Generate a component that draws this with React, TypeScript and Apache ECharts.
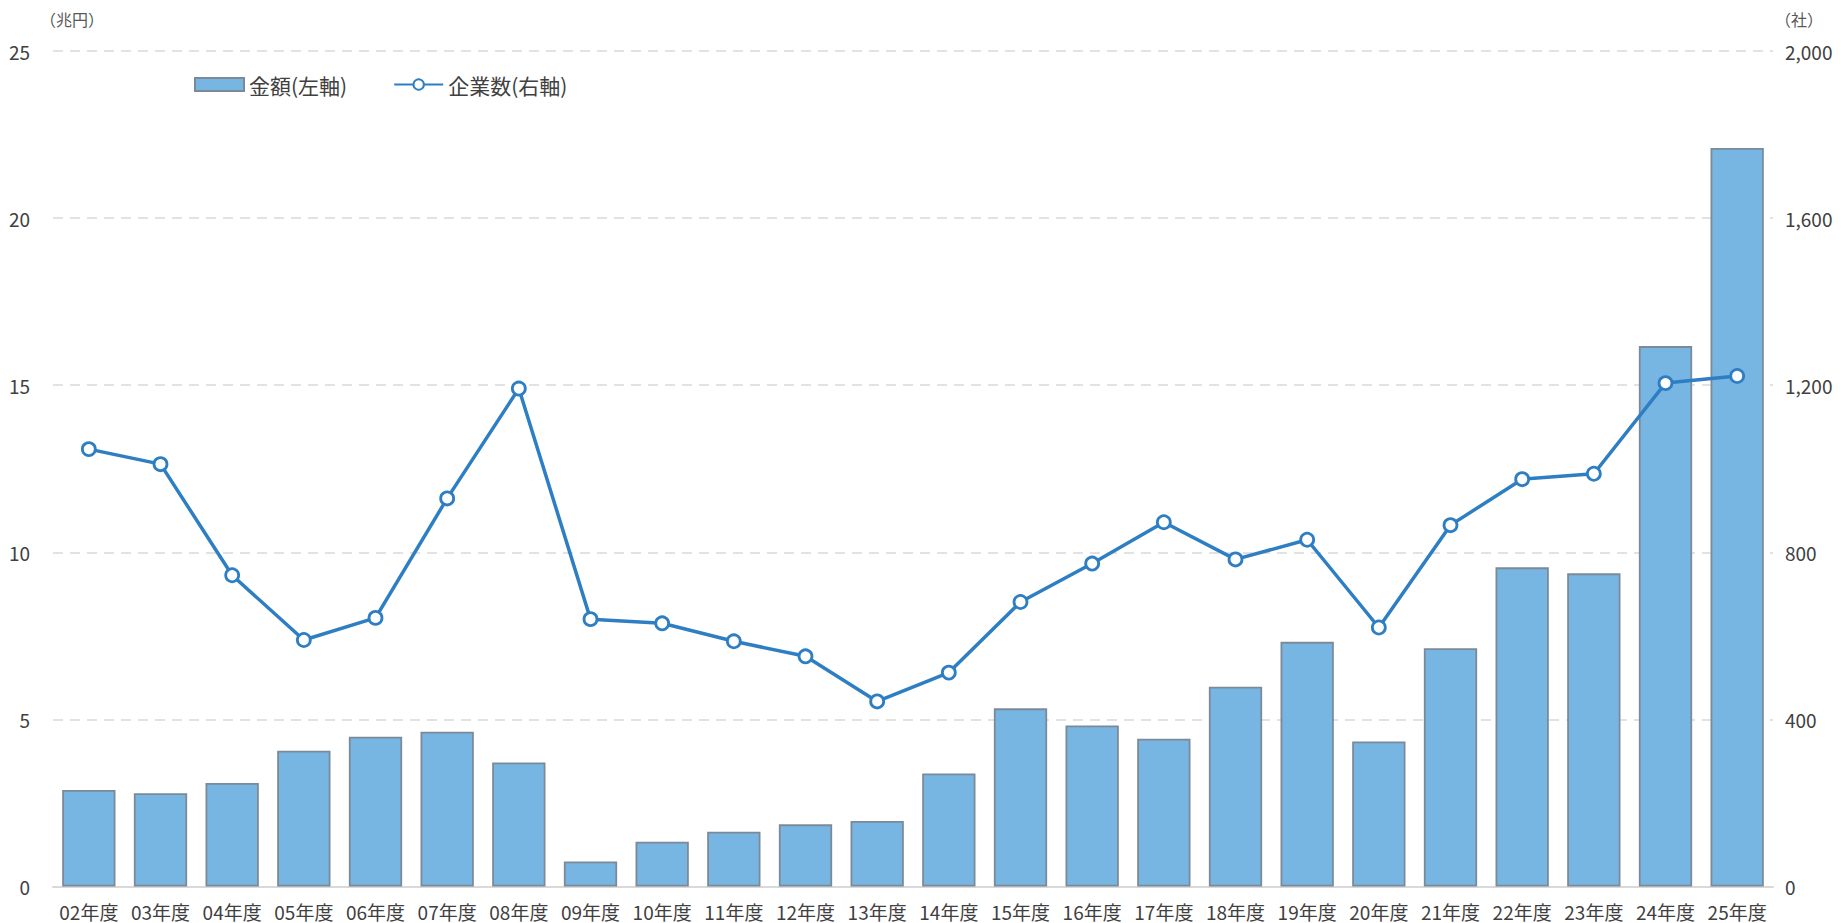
import React, { useEffect, useRef } from "react";
import * as echarts from "echarts";

const categories = [
  "02年度", "03年度", "04年度", "05年度", "06年度", "07年度", "08年度", "09年度",
  "10年度", "11年度", "12年度", "13年度", "14年度", "15年度", "16年度", "17年度",
  "18年度", "19年度", "20年度", "21年度", "22年度", "23年度", "24年度", "25年度",
];

// 金額 (兆円)
const amountValues = [
  2.89, 2.79, 3.1, 4.06, 4.48, 4.63, 3.71, 0.75,
  1.34, 1.64, 1.86, 1.96, 3.38, 5.33, 4.82, 4.42,
  5.98, 7.32, 4.34, 7.13, 9.55, 9.37, 16.17, 22.1,
];

// 企業数 (社)
const companyValues = [
  1047, 1011, 745, 590, 643, 929, 1192, 640,
  630, 587, 551, 443, 512, 681, 773, 872,
  783, 830, 620, 865, 975, 988, 1205, 1222,
];

const leftAxisName = "（兆円）";
const rightAxisName = "（社）";
const barName = "金額(左軸)";
const lineName = "企業数(右軸)";

const FONT = "'Noto Sans CJK JP', 'Noto Sans', sans-serif";

export default function App() {
  const ref = useRef<HTMLDivElement>(null);

  useEffect(() => {
    document.body.style.margin = "0";
    if (!ref.current) return;
    const chart = echarts.init(ref.current, null, { renderer: "svg" });
    chart.setOption({
      animation: false,
      backgroundColor: "#ffffff",
      textStyle: { fontFamily: FONT },
      grid: { left: 53, right: 68, top: 51, bottom: 36.5, containLabel: false },
      legend: {
        left: 189,
        top: 69,
        itemWidth: 49,
        itemHeight: 13,
        itemGap: 46,
        textStyle: { fontSize: 21, color: "#404040", fontFamily: FONT },
        data: [
          { name: barName, icon: "rect" },
          { name: lineName },
        ],
      },
      graphic: [
        {
          type: "text",
          left: 40,
          top: 11,
          style: { text: leftAxisName, fontSize: 16, fill: "#595959", fontFamily: FONT },
        },
        {
          type: "text",
          left: 1775,
          top: 11,
          style: { text: rightAxisName, fontSize: 16, fill: "#595959", fontFamily: FONT },
        },
      ],
      xAxis: {
        type: "category",
        data: categories,
        axisLine: { lineStyle: { color: "#D9D9D9", width: 2 } },
        axisTick: { show: false },
        axisLabel: {
          color: "#404040",
          fontSize: 19,
          lineHeight: 19,
          margin: 15,
          interval: 0,
          fontFamily: FONT,
        },
      },
      yAxis: [
        {
          type: "value",
          min: 0,
          max: 25,
          interval: 5,
          axisLine: { show: false },
          axisTick: { show: false },
          axisLabel: { color: "#404040", fontSize: 19, margin: 23, fontFamily: FONT },
          splitLine: { lineStyle: { color: "#D9D9D9", width: 1.5, type: [10, 7] } },
        },
        {
          type: "value",
          min: 0,
          max: 2000,
          interval: 400,
          axisLine: { show: false },
          axisTick: { show: false },
          splitLine: { show: false },
          axisLabel: {
            color: "#404040",
            fontSize: 19,
            margin: 12,
            fontFamily: FONT,
            formatter: (v: number) => v.toLocaleString("en-US"),
          },
        },
      ],
      series: [
        {
          name: barName,
          type: "bar",
          yAxisIndex: 0,
          data: amountValues,
          barCategoryGap: "25.6%",
          itemStyle: { color: "#77B5E3", borderColor: "#7C8A98", borderWidth: 1.8 },
        },
        {
          name: lineName,
          type: "line",
          yAxisIndex: 1,
          data: companyValues,
          symbol: "circle",
          symbolSize: 13,
          lineStyle: { color: "#2E7EC3", width: 3.5 },
          itemStyle: { color: "#ffffff", borderColor: "#2E7EC3", borderWidth: 2.8 },
        },
      ],
    });
    return () => chart.dispose();
  }, []);

  return (
    <div
      ref={ref}
      style={{ position: "absolute", left: 0, top: 0, width: 1841, height: 923 }}
    />
  );
}
